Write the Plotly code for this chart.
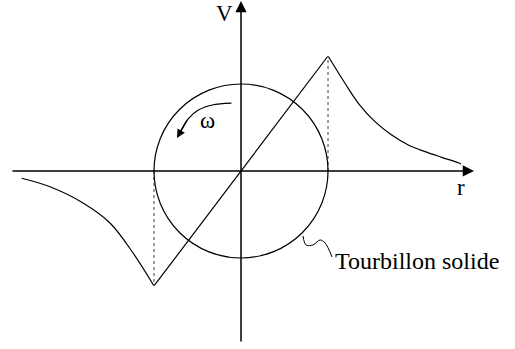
import plotly.graph_objects as go

# Rankine vortex profile (r in units of core radius R, V in units of Vmax)
r_core = [-1.0, 0.0, 1.0]
v_core = [-1.0, 0.0, 1.0]

r_right = [1.0, 1.195, 1.349, 1.540, 1.732, 1.923, 2.115, 2.307, 2.498, 2.529]
v_right = [1.0, 0.763, 0.589, 0.429, 0.313, 0.226, 0.168, 0.119, 0.072, 0.061]

r_left = [-2.521, -2.195, -1.816, -1.506, -1.241, -1.0]
v_left = [-0.063, -0.137, -0.278, -0.452, -0.713, -1.0]

# core radius circle (R) drawn in the r-V plane
R = 1.0
circle_v = 0.7565  # circle radius expressed on V axis

# decorative paths (data units)
omega_r = [-0.11, -0.33, -0.49, -0.61, -0.70]
omega_v = [0.591, 0.574, 0.530, 0.452, 0.339]
leader_r = [0.713, 0.747, 0.828, 0.908, 0.966, 1.046]
leader_v = [-0.565, -0.643, -0.643, -0.600, -0.626, -0.748]

labels = {"V": "V", "r": "r", "omega": "ω", "core": "Tourbillon solide"}

FONT = "Liberation Serif"

fig = go.Figure()

line = dict(color="black", width=1.2)
fig.add_trace(go.Scatter(x=r_core, y=v_core, mode="lines", line=line))
fig.add_trace(go.Scatter(x=r_right, y=v_right, mode="lines",
                         line=dict(color="black", width=1.2, shape="spline")))
fig.add_trace(go.Scatter(x=r_left, y=v_left, mode="lines",
                         line=dict(color="black", width=1.2, shape="spline")))
# dotted verticals at r = ±R
fig.add_trace(go.Scatter(x=[r_right[0], r_right[0]], y=[0, v_right[0]], mode="lines",
                         line=dict(color="#777777", width=1.4, dash="dot")))
fig.add_trace(go.Scatter(x=[r_left[-1], r_left[-1]], y=[0, v_left[-1]], mode="lines",
                         line=dict(color="#777777", width=1.4, dash="dot")))
# omega rotation arrow path
fig.add_trace(go.Scatter(x=omega_r, y=omega_v, mode="lines",
                         line=dict(color="black", width=1.2, shape="spline")))
# leader squiggle
fig.add_trace(go.Scatter(x=leader_r, y=leader_v, mode="lines",
                         line=dict(color="black", width=1.0, shape="spline")))

fig.add_shape(type="circle", xref="x", yref="y", x0=-R, x1=R, y0=-circle_v, y1=circle_v,
              line=dict(color="black", width=1.2))

# axes with arrows
fig.add_annotation(x=2.678, y=0, ax=-2.644, ay=0, xref="x", yref="y", axref="x", ayref="y",
                   showarrow=True, arrowhead=2, arrowsize=1.5, arrowwidth=1.5,
                   arrowcolor="black", text="")
fig.add_annotation(x=0, y=1.478, ax=0, ay=-1.496, xref="x", yref="y", axref="x", ayref="y",
                   showarrow=True, arrowhead=2, arrowsize=1.5, arrowwidth=1.5,
                   arrowcolor="black", text="")
# omega arrowhead
fig.add_annotation(x=-0.736, y=0.287, ax=omega_r[-2], ay=omega_v[-2], xref="x", yref="y",
                   axref="x", ayref="y", showarrow=True, arrowhead=2, arrowsize=1.4,
                   arrowwidth=1.2, arrowcolor="black", text="")

tf = dict(family=FONT, size=23, color="black")
fig.add_annotation(x=-0.185, y=1.37, xref="x", yref="y", text=labels["V"], showarrow=False, font=tf)
fig.add_annotation(x=2.529, y=-0.145, xref="x", yref="y", text=labels["r"], showarrow=False, font=tf)
fig.add_annotation(x=-0.39, y=0.435, xref="x", yref="y", text=labels["omega"], showarrow=False, font=tf)
fig.add_annotation(x=1.055, y=-0.78, xref="x", yref="y", text=labels["core"], showarrow=False,
                   font=dict(family=FONT, size=24, color="black"), xanchor="left")

fig.update_xaxes(range=[-2.770, 3.149], visible=False, fixedrange=True)
fig.update_yaxes(range=[-1.548, 1.487], visible=False, fixedrange=True)
fig.update_layout(width=515, height=349, margin=dict(l=0, r=0, t=0, b=0),
                  paper_bgcolor="white", plot_bgcolor="white", showlegend=False)

fig.write_html("out.html", config={"displayModeBar": False},
               post_script="document.body.style.margin='0';document.body.style.overflow='hidden';")
